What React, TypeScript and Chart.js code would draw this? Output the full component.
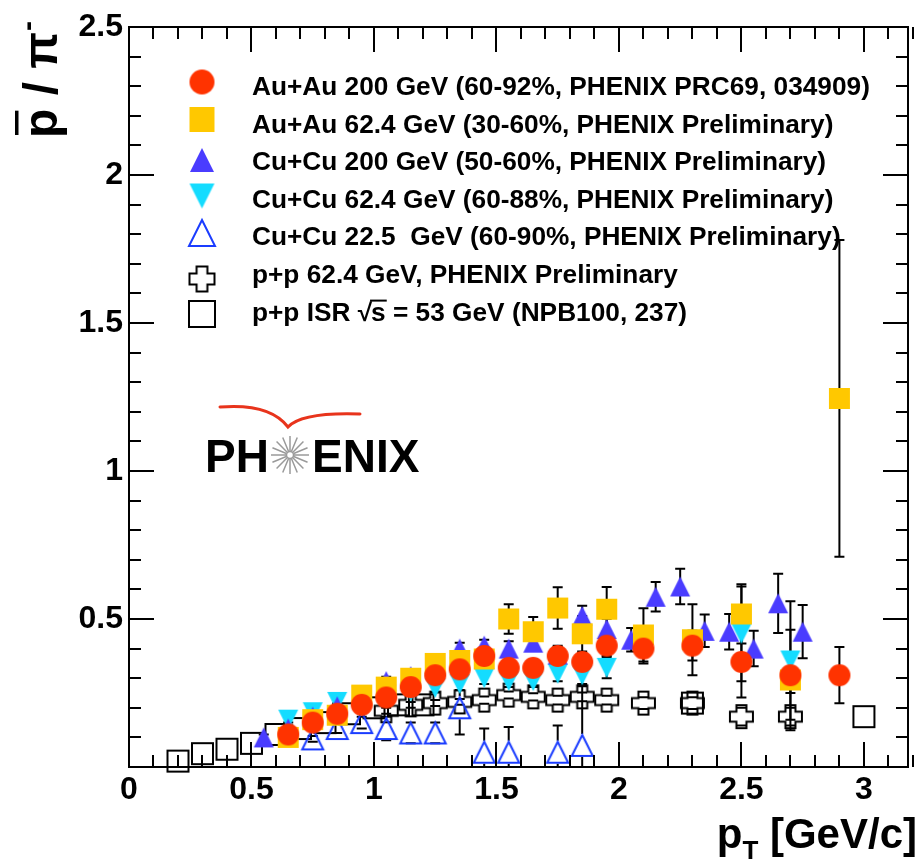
import React, { useEffect, useRef } from 'react';
import { Chart, registerables } from 'chart.js';

Chart.register(...registerables);

const FONT = '"Liberation Sans", Arial, Helvetica, sans-serif';

// ---- axes ----
const xTicks = [0, 0.5, 1, 1.5, 2, 2.5, 3];
const yTicks = [0.5, 1, 1.5, 2, 2.5];
const xMin = 0;
const xMax = 3.18;
const yMin = 0;
const yMax = 2.5;

// ---- Au+Au 200 GeV (60-92%) ----
const auau200X = [0.65, 0.75, 0.85, 0.95, 1.05, 1.15, 1.25, 1.35, 1.45, 1.55, 1.65, 1.75, 1.85, 1.95, 2.1, 2.3, 2.5, 2.7, 2.9];
const auau200Y = [0.11, 0.15, 0.18, 0.21, 0.235, 0.27, 0.31, 0.33, 0.375, 0.335, 0.335, 0.375, 0.355, 0.41, 0.40, 0.41, 0.355, 0.31, 0.31];
const auau200Err = [0.01, 0.01, 0.01, 0.012, 0.015, 0.015, 0.02, 0.02, 0.025, 0.02, 0.02, 0.03, 0.03, 0.035, 0.05, 0.05, 0.12, 0.06, 0.095];

// ---- Au+Au 62.4 GeV (30-60%) ----
const auau62X = [0.65, 0.75, 0.85, 0.95, 1.05, 1.15, 1.25, 1.35, 1.45, 1.55, 1.65, 1.75, 1.85, 1.95, 2.1, 2.3, 2.5, 2.7, 2.9];
const auau62Y = [0.10, 0.16, 0.175, 0.243, 0.27, 0.30, 0.35, 0.36, 0.365, 0.50, 0.457, 0.537, 0.45, 0.533, 0.446, 0.43, 0.517, 0.294, 1.245];
const auau62Err = [0.01, 0.01, 0.015, 0.015, 0.02, 0.02, 0.02, 0.025, 0.03, 0.05, 0.05, 0.07, 0.06, 0.075, 0.09, 0.12, 0.1, 0.17, 0.535];

// ---- Cu+Cu 200 GeV (50-60%) ----
const cucu200X = [0.55, 0.65, 0.75, 0.85, 0.95, 1.05, 1.15, 1.25, 1.35, 1.45, 1.55, 1.65, 1.75, 1.85, 1.95, 2.05, 2.15, 2.25, 2.35, 2.45, 2.55, 2.65, 2.75];
const cucu200Y = [0.10, 0.13, 0.17, 0.205, 0.24, 0.29, 0.307, 0.33, 0.40, 0.41, 0.40, 0.42, 0.38, 0.51, 0.466, 0.43, 0.575, 0.61, 0.46, 0.457, 0.40, 0.553, 0.457];
const cucu200Err = [0.01, 0.01, 0.01, 0.01, 0.012, 0.015, 0.015, 0.02, 0.02, 0.02, 0.025, 0.025, 0.03, 0.035, 0.035, 0.04, 0.05, 0.06, 0.055, 0.06, 0.06, 0.1, 0.09];

// ---- Cu+Cu 62.4 GeV (60-88%) ----
const cucu62X = [0.65, 0.75, 0.85, 0.95, 1.05, 1.15, 1.25, 1.35, 1.45, 1.55, 1.65, 1.75, 1.85, 1.95, 2.5, 2.7];
const cucu62Y = [0.16, 0.185, 0.22, 0.24, 0.245, 0.255, 0.267, 0.28, 0.30, 0.29, 0.29, 0.315, 0.31, 0.335, 0.45, 0.36];
const cucu62Err = [0.01, 0.01, 0.01, 0.01, 0.015, 0.015, 0.015, 0.02, 0.02, 0.02, 0.02, 0.025, 0.03, 0.035, 0.16, 0.2];

// ---- Cu+Cu 22.5 GeV (60-90%) ----
const cucu22X = [0.75, 0.85, 0.95, 1.05, 1.15, 1.25, 1.35, 1.45, 1.55, 1.75, 1.85];
const cucu22Y = [0.095, 0.13, 0.15, 0.13, 0.115, 0.115, 0.2, 0.05, 0.05, 0.05, 0.073];
const cucu22Err = [0.01, 0.015, 0.02, 0.04, 0.035, 0.035, 0.09, 0.08, 0.085, 0.09, 0.2];

// ---- p+p 62.4 GeV ----
const pp62X = [1.05, 1.15, 1.25, 1.35, 1.45, 1.55, 1.65, 1.75, 1.85, 1.95, 2.1, 2.3, 2.5, 2.7];
const pp62Y = [0.19, 0.21, 0.216, 0.22, 0.226, 0.243, 0.237, 0.226, 0.237, 0.226, 0.216, 0.216, 0.17, 0.17];
const pp62Err = [0.01, 0.01, 0.01, 0.01, 0.012, 0.012, 0.012, 0.015, 0.015, 0.015, 0.02, 0.02, 0.03, 0.03];

// ---- p+p ISR 53 GeV ----
const isrX = [0.2, 0.3, 0.4, 0.5, 0.6, 0.7, 0.8, 0.9, 1.0, 1.1, 1.2, 2.3, 3.0];
const isrY = [0.02, 0.045, 0.06, 0.08, 0.11, 0.13, 0.15, 0.18, 0.2, 0.21, 0.21, 0.216, 0.17];
const isrErr = [0, 0, 0, 0, 0, 0, 0, 0, 0, 0, 0, 0, 0];

const legendLabels = [
  'Au+Au 200 GeV (60-92%, PHENIX PRC69, 034909)',
  'Au+Au 62.4 GeV (30-60%, PHENIX Preliminary)',
  'Cu+Cu 200 GeV (50-60%, PHENIX Preliminary)',
  'Cu+Cu 62.4 GeV (60-88%, PHENIX Preliminary)',
  'Cu+Cu 22.5  GeV (60-90%, PHENIX Preliminary)',
  'p+p 62.4 GeV, PHENIX Preliminary',
  'p+p ISR \u221As = 53 GeV (NPB100, 237)',
];

type Kind = 'circle' | 'square' | 'triUp' | 'triDown' | 'openTri' | 'openCross' | 'openSquare';

function makeMarker(kind: Kind, size: number, color: string): HTMLCanvasElement {
  const pad = 3;
  const n = Math.round(size + pad * 2);
  const c = document.createElement('canvas');
  c.width = n;
  c.height = n;
  const g = c.getContext('2d')!;
  const m = n / 2;
  const h = size / 2;
  g.lineWidth = 2;
  g.strokeStyle = color;
  g.fillStyle = color;
  g.lineJoin = 'miter';
  g.beginPath();
  switch (kind) {
    case 'circle':
      g.arc(m, m, h, 0, Math.PI * 2);
      g.fill();
      break;
    case 'square':
      g.fillRect(m - h, m - h, size, size);
      break;
    case 'triUp':
      g.moveTo(m, m - h);
      g.lineTo(m + h, m + h);
      g.lineTo(m - h, m + h);
      g.closePath();
      g.fill();
      break;
    case 'triDown':
      g.moveTo(m, m + h);
      g.lineTo(m + h, m - h);
      g.lineTo(m - h, m - h);
      g.closePath();
      g.fill();
      break;
    case 'openTri':
      g.moveTo(m, m - h + 1);
      g.lineTo(m + h - 1, m + h - 1);
      g.lineTo(m - h + 1, m + h - 1);
      g.closePath();
      g.stroke();
      break;
    case 'openSquare':
      g.strokeRect(m - h + 1, m - h + 1, size - 2, size - 2);
      break;
    case 'openCross': {
      const a = size * 0.2;
      const b = h - 1;
      const pts = [[-a, -b], [a, -b], [a, -a], [b, -a], [b, a], [a, a], [a, b], [-a, b], [-a, a], [-b, a], [-b, -a], [-a, -a]];
      pts.forEach(([px, py], i) => (i === 0 ? g.moveTo(m + px, m + py) : g.lineTo(m + px, m + py)));
      g.closePath();
      g.stroke();
      break;
    }
  }
  return c;
}

const RED = '#ff3300';
const ORANGE = '#ffc800';
const BLUE = '#4a3cff';
const CYAN = '#14dcff';
const OPENBLUE = '#1a3cff';
const BLACK = '#000000';

export default function App() {
  const ref = useRef<HTMLCanvasElement>(null);

  useEffect(() => {
    const canvas = ref.current!;
    const specs: { x: number[]; y: number[]; err: number[]; kind: Kind; color: string; size: number; lsize: number; open: boolean }[] = [
      { x: auau200X, y: auau200Y, err: auau200Err, kind: 'circle', color: RED, size: 22, lsize: 25, open: false },
      { x: auau62X, y: auau62Y, err: auau62Err, kind: 'square', color: ORANGE, size: 21, lsize: 25, open: false },
      { x: cucu200X, y: cucu200Y, err: cucu200Err, kind: 'triUp', color: BLUE, size: 20, lsize: 24, open: false },
      { x: cucu62X, y: cucu62Y, err: cucu62Err, kind: 'triDown', color: CYAN, size: 20, lsize: 25, open: false },
      { x: cucu22X, y: cucu22Y, err: cucu22Err, kind: 'openTri', color: OPENBLUE, size: 23, lsize: 28, open: true },
      { x: pp62X, y: pp62Y, err: pp62Err, kind: 'openCross', color: BLACK, size: 25, lsize: 27, open: true },
      { x: isrX, y: isrY, err: isrErr, kind: 'openSquare', color: BLACK, size: 23, lsize: 28, open: true },
    ];
    const dataMarkers = specs.map((s) => makeMarker(s.kind, s.size, s.color));
    const legendMarkers = specs.map((s) => makeMarker(s.kind, s.lsize, s.color));

    const errorBars = {
      id: 'errorBars',
      beforeDatasetsDraw(chart: any) {
        const { ctx, chartArea } = chart;
        const xs = chart.scales.x;
        const ys = chart.scales.y;
        ctx.save();
        ctx.beginPath();
        ctx.rect(chartArea.left, chartArea.top, chartArea.right - chartArea.left, chartArea.bottom - chartArea.top);
        ctx.clip();
        ctx.strokeStyle = '#000';
        ctx.lineWidth = 2;
        specs.forEach((s) => {
          s.x.forEach((xv, i) => {
            const e = s.err[i];
            if (!e) return;
            const px = xs.getPixelForValue(xv);
            const py = ys.getPixelForValue(s.y[i]);
            const pt = ys.getPixelForValue(s.y[i] + e);
            const pb = ys.getPixelForValue(s.y[i] - e);
            const half = s.size / 2;
            ctx.beginPath();
            if (s.open) {
              if (pt < py - half) { ctx.moveTo(px, pt); ctx.lineTo(px, py - half); }
              if (pb > py + half) { ctx.moveTo(px, py + half); ctx.lineTo(px, pb); }
            } else {
              ctx.moveTo(px, pt);
              ctx.lineTo(px, pb);
            }
            ctx.moveTo(px - 5, pt);
            ctx.lineTo(px + 5, pt);
            ctx.moveTo(px - 5, pb);
            ctx.lineTo(px + 5, pb);
            ctx.stroke();
          });
        });
        ctx.restore();
      },
    };

    const decorations = {
      id: 'decorations',
      afterDraw(chart: any) {
        const { ctx, chartArea } = chart;
        const xs = chart.scales.x;
        const ys = chart.scales.y;
        const L = chartArea.left, R = chartArea.right, T = chartArea.top, B = chartArea.bottom;
        ctx.save();
        // frame
        ctx.strokeStyle = '#000';
        ctx.lineWidth = 2;
        ctx.strokeRect(L, T, R - L, B - T);
        // ticks
        ctx.beginPath();
        for (let k = 0; k <= Math.round(xMax * 10); k++) {
          const v = k / 10;
          const major = k % 5 === 0;
          const len = major ? 25 : 12;
          const px = Math.round(xs.getPixelForValue(v));
          ctx.moveTo(px, B);
          ctx.lineTo(px, B - len);
          ctx.moveTo(px, T);
          ctx.lineTo(px, T + len);
        }
        for (let k = 0; k <= Math.round(yMax * 10); k++) {
          const v = k / 10;
          const major = k % 5 === 0;
          const len = major ? 25 : 12;
          const py = Math.round(ys.getPixelForValue(v));
          ctx.moveTo(L, py);
          ctx.lineTo(L + len, py);
          ctx.moveTo(R, py);
          ctx.lineTo(R - len, py);
        }
        ctx.stroke();

        // legend
        const mY = [82, 119.5, 160, 196, 233, 279, 314];
        ctx.fillStyle = '#000';
        ctx.textBaseline = 'alphabetic';
        ctx.textAlign = 'left';
        legendLabels.forEach((lab, i) => {
          const mk = legendMarkers[i];
          ctx.drawImage(mk, 202 - mk.width / 2, mY[i] - mk.height / 2);
          const base = 95 + 37.6 * i;
          ctx.save();
          ctx.translate(252, base);
          ctx.scale(1.05, 1);
          ctx.font = `bold 25px ${FONT}`;
          if (lab.indexOf('\u221A') >= 0) {
            const parts = lab.split('\u221As');
            let cx = 0;
            ctx.fillText(parts[0], cx, 0);
            cx += ctx.measureText(parts[0]).width;
            ctx.fillText('\u221A', cx, 0);
            const wr = ctx.measureText('\u221A').width;
            const ws = ctx.measureText('s').width;
            ctx.fillText('s', cx + wr - 1, 0);
            ctx.fillRect(cx + wr - 2, -21, ws + 2, 2);
            cx += wr - 1 + ws;
            ctx.fillText(parts[1], cx, 0);
          } else {
            ctx.fillText(lab, 0, 0);
          }
          ctx.restore();
        });

        // PHENIX logo
        ctx.font = `bold 46px ${FONT}`;
        ctx.fillStyle = '#000';
        ctx.fillText('PH', 205, 472);
        ctx.fillText('ENIX', 312, 472);
        ctx.strokeStyle = '#9a9a9a';
        ctx.lineWidth = 1.5;
        ctx.beginPath();
        for (let k = 0; k < 16; k++) {
          const a = (k / 16) * Math.PI * 2;
          ctx.moveTo(290 + Math.cos(a) * 4, 455 + Math.sin(a) * 4);
          ctx.lineTo(290 + Math.cos(a) * 19, 455 + Math.sin(a) * 19);
        }
        ctx.stroke();
        ctx.beginPath();
        ctx.arc(290, 455, 3.5, 0, Math.PI * 2);
        ctx.stroke();
        ctx.strokeStyle = '#e8341c';
        ctx.lineWidth = 3;
        ctx.lineCap = 'round';
        ctx.beginPath();
        ctx.moveTo(220, 407);
        ctx.quadraticCurveTo(270, 403, 288, 427);
        ctx.quadraticCurveTo(302, 412, 360, 414);
        ctx.stroke();
        ctx.lineCap = 'butt';

        // x title
        ctx.fillStyle = '#000';
        ctx.font = `bold 42px ${FONT}`;
        const wRest = ctx.measureText(' [GeV/c]').width;
        const wp = ctx.measureText('p').width;
        ctx.font = `bold 26px ${FONT}`;
        const wT = ctx.measureText('T').width;
        const x0 = 917 - (wp + wT + wRest);
        ctx.font = `bold 42px ${FONT}`;
        ctx.fillText('p', x0, 848);
        ctx.fillText(' [GeV/c]', x0 + wp + wT, 848);
        ctx.font = `bold 26px ${FONT}`;
        ctx.fillText('T', x0 + wp, 859);

        // y title
        ctx.save();
        ctx.translate(57, 138);
        ctx.rotate(-Math.PI / 2);
        ctx.font = `bold 48px ${FONT}`;
        ctx.fillText('p', 0, 0);
        const wpy = ctx.measureText('p').width;
        ctx.fillRect(3, -42, wpy - 5, 3.5);
        ctx.fillText(' / \u03C0', wpy, 0);
        const wmid = ctx.measureText(' / \u03C0').width;
        ctx.font = `bold 30px ${FONT}`;
        ctx.fillText('-', wpy + wmid + 1, -20);
        ctx.restore();

        ctx.restore();
      },
    };

    const tickFont = { family: FONT, weight: 'bold' as const, size: 32 };

    const chart = new Chart(canvas, {
      type: 'scatter',
      data: {
        datasets: specs.map((s, i) => ({
          label: legendLabels[i],
          data: s.x.map((xv, j) => ({ x: xv, y: s.y[j] })),
          pointStyle: dataMarkers[i] as any,
          pointRadius: 11,
          showLine: false,
          clip: false as any,
        })),
      },
      options: {
        responsive: false,
        maintainAspectRatio: false,
        animation: false,
        devicePixelRatio: 1,
        events: [],
        layout: { padding: { top: 27, right: 5, left: 0, bottom: 0 } },
        plugins: { legend: { display: false }, tooltip: { enabled: false }, title: { display: false } },
        scales: {
          x: {
            type: 'linear',
            min: xMin,
            max: xMax,
            afterFit: (s: any) => { s.height = 97; },
            afterBuildTicks: (s: any) => { s.ticks = xTicks.map((v) => ({ value: v })); },
            grid: { display: false, drawTicks: false },
            border: { display: false },
            ticks: {
              autoSkip: false,
              maxRotation: 0,
              minRotation: 0,
              padding: 4,
              color: '#000',
              font: tickFont,
              callback: (v: any) => String(v),
            },
          },
          y: {
            type: 'linear',
            min: yMin,
            max: yMax,
            afterFit: (s: any) => { s.width = 129; },
            afterBuildTicks: (s: any) => { s.ticks = yTicks.map((v) => ({ value: v })); },
            grid: { display: false, drawTicks: false },
            border: { display: false },
            ticks: {
              autoSkip: false,
              padding: 6,
              color: '#000',
              font: tickFont,
              callback: (v: any) => String(v),
            },
          },
        },
      },
      plugins: [errorBars, decorations],
    });
    return () => chart.destroy();
  }, []);

  return (
    <div style={{ position: 'absolute', left: 0, top: 0, width: 920, height: 864, background: '#fff' }}>
      <canvas ref={ref} width={920} height={864} style={{ display: 'block', width: 920, height: 864 }} />
    </div>
  );
}
